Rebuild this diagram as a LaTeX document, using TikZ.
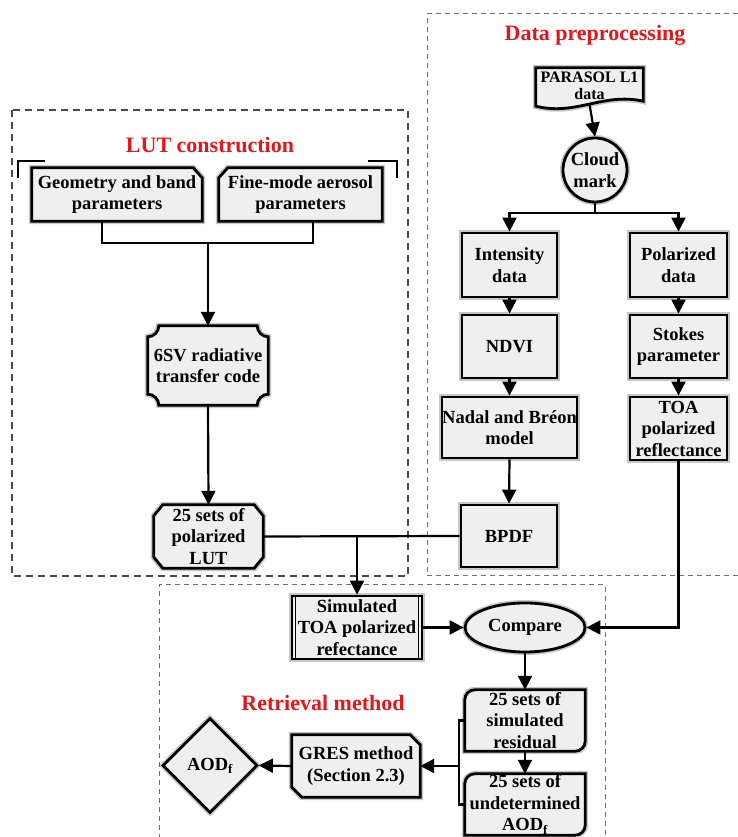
\documentclass[tikz,border=0pt]{standalone}
\usepackage{fontspec}
\setmainfont{Liberation Serif}
\usetikzlibrary{arrows.meta,shapes.geometric,calc}
\pgfdeclarelayer{background}
\pgfsetlayers{background,main}
\definecolor{boxfill}{HTML}{EFEFEF}
\definecolor{titred}{HTML}{E3161B}
\definecolor{dashdark}{HTML}{4A4A4A}
\definecolor{dashlight}{HTML}{707070}
\begin{document}
\begin{tikzpicture}[x=1pt,y=1pt,
  txt/.style={font=\fontsize{18.5}{21.5}\selectfont\bfseries, align=center, inner sep=0pt},
  shadowed/.style={preaction={draw=black, draw opacity=0.22, line width=6pt}},
  box/.style={txt, draw, line width=2.8pt, fill=boxfill, shadowed},
  shp/.style={draw, line width=2.8pt, fill=boxfill, line join=miter, shadowed},
  ghost/.style={txt},
  title/.style={font=\fontsize{22}{24}\selectfont\bfseries, text=titred, inner sep=0pt},
  conn/.style={line width=2.2pt},
  arr/.style={line width=2.2pt, -{Triangle[length=14pt,width=14pt]}},
  heavydash/.style={draw=dashdark, line width=1.6pt, dash pattern=on 7pt off 5pt},
  lightdash/.style={draw=dashlight, line width=1pt, dash pattern=on 5pt off 4pt},
]
\useasboundingbox (0,0) rectangle (738,837);

% ---------- section frames ----------
\draw[heavydash] (12,727) rectangle (408,261);
\draw[lightdash] (738,823) -- (427,823) -- (427,261) -- (738,261);
\draw[lightdash] (159,-2) -- (159,252) -- (605,252) -- (605,-2);

% ---------- titles ----------
\node[title] (tlut) at (210,692) {LUT construction};
\node[title] (tdata) at (595,802) {Data preprocessing};
\node[title] (tret) at (323,134) {Retrieval method};

% ---------- brackets in LUT frame ----------
\draw[line width=2.2pt] (18,659) -- (18,676) -- (45,676);
\draw[line width=2.2pt] (368,676) -- (397,676) -- (397,659);

% ---------- LUT construction nodes ----------
\node[ghost, minimum width=170, minimum height=53] (geo) at (117,642.5) {Geometry and band\\parameters};
\node[ghost, minimum width=163, minimum height=53] (fine) at (300.5,642.5) {Fine-mode aerosol\\parameters};
\node[ghost, minimum width=120, minimum height=79] (six) at (208,471.5) {6SV radiative\\transfer code};
\node[ghost, minimum width=109, minimum height=63] (lut) at (208.5,300.5) {25 sets of\\polarized\\LUT};

% ---------- data preprocessing nodes ----------
\node[ghost, font=\fontsize{16}{16.5}\selectfont\bfseries, minimum width=107, minimum height=36] (par) at (589.5,751) {PARASOL L1\\data};
\node[box, circle, minimum size=64] (cloud) at (595,667) {Cloud\\mark};
\node[box, minimum width=95, minimum height=64] (int) at (509.5,572) {Intensity\\data};
\node[box, minimum width=97, minimum height=64] (pol) at (678.5,572) {Polarized\\data};
\node[box, minimum width=95, minimum height=63] (ndvi) at (509.5,490.5) {NDVI};
\node[box, minimum width=97, minimum height=63] (stk) at (678.5,490.5) {Stokes\\parameter};
\node[box, minimum width=135, minimum height=61] (nad) at (509.5,409.5) {Nadal and Bréon\\model};
\node[box, minimum width=97, minimum height=63] (toa) at (678.5,408.5) {TOA\\polarized\\reflectance};
\node[box, minimum width=96, minimum height=62] (bpdf) at (509,301) {BPDF};

% ---------- retrieval nodes ----------
\node[box, minimum width=130, minimum height=63] (sim) at (357,209.5) {Simulated\\TOA polarized\\refectance};
\node[box, ellipse, minimum width=120, minimum height=49] (cmp) at (525,209.5) {Compare};
\node[ghost, minimum width=120, minimum height=61] (res) at (525,116.5) {25 sets of\\simulated\\residual};
\node[ghost, minimum width=120, minimum height=61] (und) at (525,32.5) {25 sets of\\undetermined\\AOD\textsubscript{f}};
\node[ghost, minimum width=128, minimum height=62] (gres) at (356,71) {GRES method\\(Section 2.3)};
\node[box, diamond, aspect=1, minimum size=95] (aod) at (210,71.5) {AOD\textsubscript{f}};

% inner lines of the predefined-process box
\draw[line width=1.6pt] ([xshift=5pt]sim.north west) -- ([xshift=5pt]sim.south west);
\draw[line width=1.6pt] ([xshift=-5pt]sim.north east) -- ([xshift=-5pt]sim.south east);

% ---------- custom outlines (behind text) ----------
\begin{pgfonlayer}{background}
\path[shp] (geo.south west) -- (geo.north west) -- ($(geo.north east)+(-9,0)$) -- ($(geo.north east)+(0,-10)$) -- (geo.south east) -- cycle;
\path[shp] (fine.south west) -- ($(fine.north west)+(0,-10)$) -- ($(fine.north west)+(9,0)$) -- (fine.north east) -- (fine.south east) -- cycle;
\path[shp] ($(six.north west)+(11,0)$) -- ($(six.north east)+(-11,0)$)
   arc[start angle=180,end angle=270,radius=11pt] -- ($(six.south east)+(0,11)$)
   arc[start angle=90,end angle=180,radius=11pt] -- ($(six.south west)+(11,0)$)
   arc[start angle=0,end angle=90,radius=11pt] -- ($(six.north west)+(0,-11)$)
   arc[start angle=270,end angle=360,radius=11pt] -- cycle;
\path[shp] ($(lut.north west)+(9,0)$) -- ($(lut.north east)+(-9,0)$) -- ($(lut.north east)+(0,-11)$)
   -- ($(lut.south east)+(0,11)$) -- ($(lut.south east)+(-9,0)$) -- ($(lut.south west)+(9,0)$)
   -- ($(lut.south west)+(0,11)$) -- ($(lut.north west)+(0,-11)$) -- cycle;
\path[shp] (par.north west) -- (par.north east) -- ($(par.south east)+(0,3)$)
   .. controls ($(par.south east)+(-40,12)$) and ($(par.south west)+(40,-12)$) .. ($(par.south west)+(0,-2)$) -- cycle;
\path[shp] (res.north east) -- ($(res.south east)+(0,10)$) arc[start angle=0,end angle=-90,radius=10pt]
   -- (res.south west) -- ($(res.north west)+(0,-10)$) arc[start angle=180,end angle=90,radius=10pt] -- cycle;
\path[shp] (und.north east) -- ($(und.south east)+(0,10)$) arc[start angle=0,end angle=-90,radius=10pt]
   -- (und.south west) -- ($(und.north west)+(0,-10)$) arc[start angle=180,end angle=90,radius=10pt] -- cycle;
\path[shp] (gres.north west) -- ($(gres.north east)+(-10,0)$) -- ($(gres.north east)+(0,-10)$)
   -- (gres.south east) -- ($(gres.south west)+(10,0)$) -- ($(gres.south west)+(0,10)$) -- cycle;
\end{pgfonlayer}

% ---------- connectors ----------
\coordinate (jtop) at (208,594);
\draw[conn] ([xshift=-15pt]geo.south) |- (jtop) -| ([xshift=12.5pt]fine.south);
\draw[arr] (jtop) -- (six.north);
\draw[arr] (six.south) -- (lut.north);

\draw[arr] (par.south) -- (cloud.north);
\coordinate (jcl) at (595,624);
\draw[conn] (cloud.south) -- (jcl);
\draw[arr] (jcl) -| (int.north);
\draw[arr] (jcl) -| (pol.north);
\draw[arr] (int.south) -- (ndvi.north);
\draw[arr] (ndvi.south) -- (nad.north);
\draw[arr] (nad.south) -- (bpdf.north);
\draw[arr] (pol.south) -- (stk.north);
\draw[arr] (stk.south) -- (toa.north);

\coordinate (jlut) at (357,301);
\draw[conn] (lut.east) -- (bpdf.west);
\draw[arr] (jlut) -- (sim.north);
\draw[arr] (sim.east) -- (cmp.west);
\draw[arr] (toa.south) |- (cmp.east);
\draw[arr] (cmp.south) -- (res.north);
\draw[arr] (res.south) -- (und.north);
\coordinate (jbk) at (459,71);
\draw[conn] (res.west) -| (jbk) |- (und.west);
\draw[arr] (jbk) -- (gres.east);
\draw[arr] (gres.west) -- (aod.east);
\end{tikzpicture}
\end{document}
